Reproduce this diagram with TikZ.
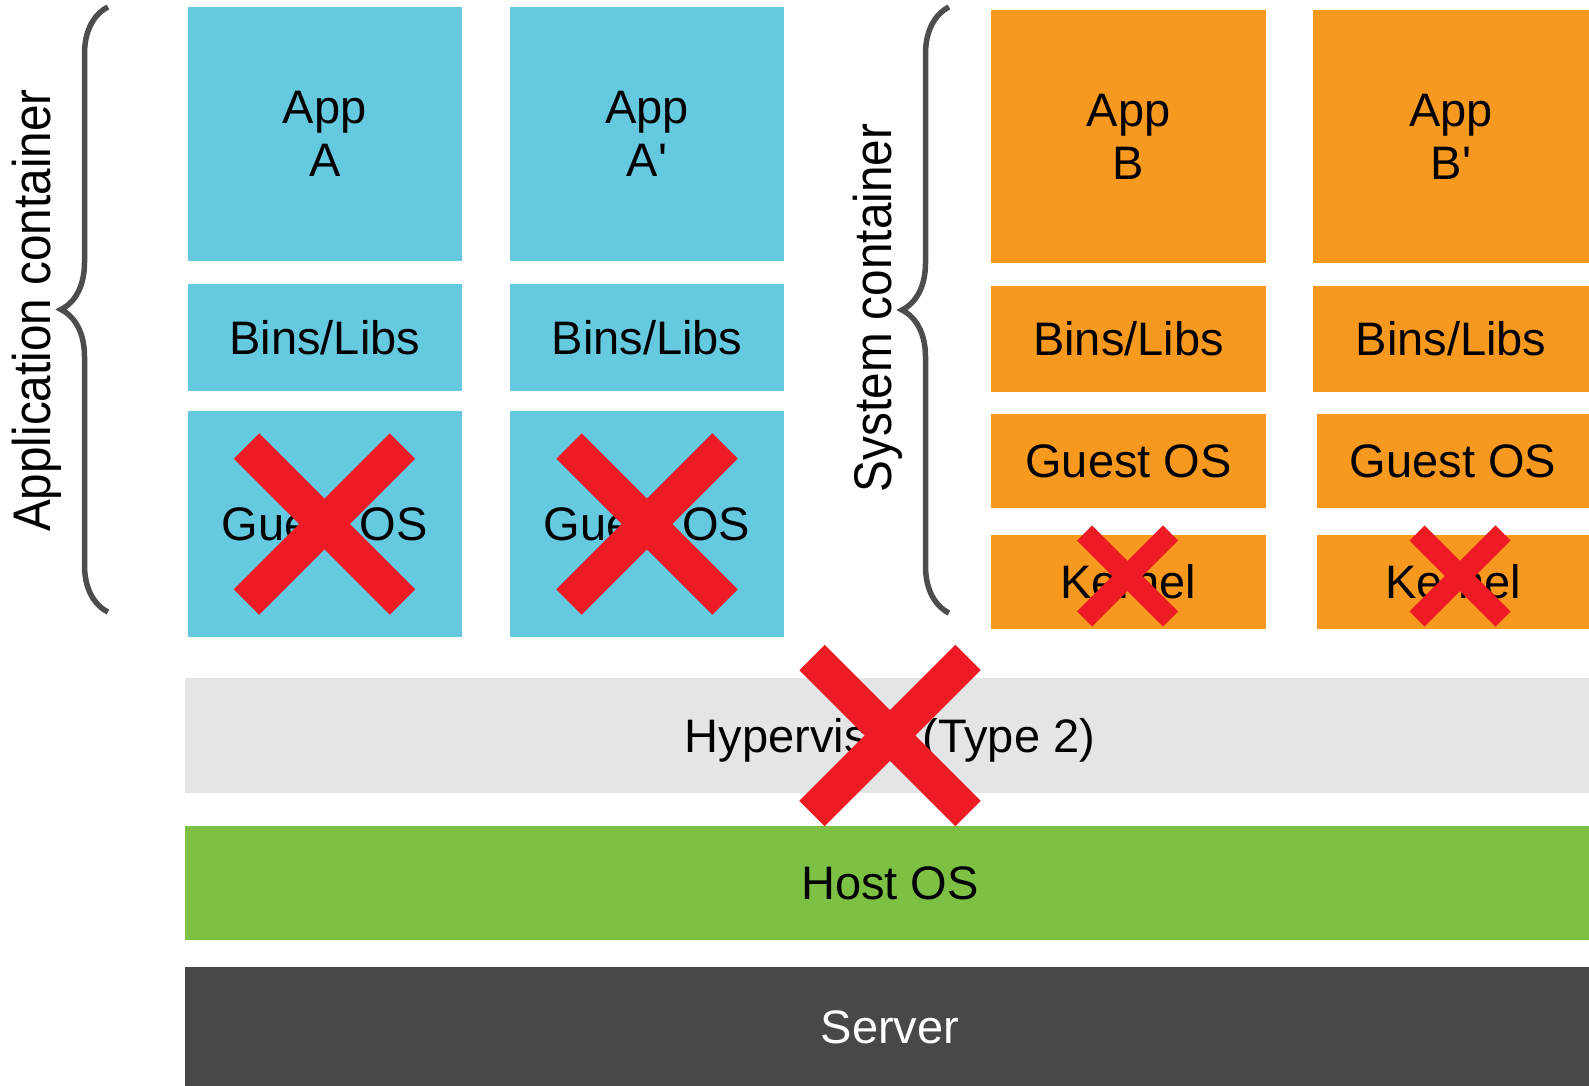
\documentclass[tikz,border=0pt]{standalone}
\usepackage{fontspec}
\setmainfont{Liberation Sans}[Ligatures=TeXOff]
\usetikzlibrary{decorations.pathreplacing}

\definecolor{appblue}{HTML}{65C9E0}
\definecolor{sysorange}{HTML}{F7981F}
\definecolor{hypgray}{HTML}{E4E5E7}
\definecolor{hostgreen}{HTML}{7CC144}
\definecolor{serverdark}{HTML}{48484A}
\definecolor{crossred}{HTML}{ED1C24}
\definecolor{bracegray}{HTML}{4D4D4D}

\tikzset{
	layer/.style={anchor=north west, inner sep=0pt, outer sep=0pt, align=center, font=\fontsize{47}{53}\selectfont},
	appbox/.style={layer, fill=appblue},
	sysbox/.style={layer, fill=sysorange},
	bigx/.style={draw=crossred, line width=36pt},
	smallx/.style={draw=crossred, line width=21.5pt},
	grp/.style={draw=bracegray, line width=5.5pt, decorate, decoration={brace, amplitude=47pt}},
	grplabel/.style={rotate=90, anchor=base, inner sep=0pt, font=\fontsize{53}{60}\selectfont},
}

\begin{document}
\begin{tikzpicture}[x=1pt, y=-1pt]
\useasboundingbox (0,0) rectangle (1589,1085);

% application containers
\node [appbox, minimum width=274.5pt, minimum height=254pt] (appA) at (187.5,7) {App\\A};
\node [appbox, minimum width=274.5pt, minimum height=107pt] (binsA) at (187.5,284) {Bins/Libs};
\node [appbox, minimum width=274.5pt, minimum height=226pt] (guestA) at (187.5,411) {Guest OS};
\node [appbox, minimum width=274pt, minimum height=254pt] (appAp) at (510,7) {App\\A'};
\node [appbox, minimum width=274pt, minimum height=107pt] (binsAp) at (510,284) {Bins/Libs};
\node [appbox, minimum width=274pt, minimum height=226pt] (guestAp) at (510,411) {Guest OS};

% system containers
\node [sysbox, minimum width=275pt, minimum height=253pt] (appB) at (991,10) {App\\B};
\node [sysbox, minimum width=275pt, minimum height=106pt] (binsB) at (991,286) {Bins/Libs};
\node [sysbox, minimum width=275pt, minimum height=94pt] (guestB) at (991,414) {Guest OS};
\node [sysbox, minimum width=275pt, minimum height=94pt] (kernelB) at (991,535) {Kernel};
\node [sysbox, minimum width=276pt, minimum height=253pt] (appBp) at (1313,10) {App\\B'};
\node [sysbox, minimum width=276pt, minimum height=106pt] (binsBp) at (1313,286) {Bins/Libs};
\node [sysbox, minimum width=272pt, minimum height=94pt] (guestBp) at (1317,414) {Guest OS};
\node [sysbox, minimum width=272pt, minimum height=94pt] (kernelBp) at (1317,535) {Kernel};

% lower layers
\node [layer, fill=hypgray, text depth=0pt, minimum width=1410pt, minimum height=115pt] (hyper) at (185,678) {Hypervisor (Type 2)};
\node [layer, fill=hostgreen, minimum width=1410pt, minimum height=114pt] (host) at (185,826) {Host OS};
\node [layer, fill=serverdark, text=white, minimum width=1410pt, minimum height=120pt] (server) at (185,967) {Server};

% braces
\draw [grp] (108,612) -- (108,7);
\draw [grp] (949,613) -- (949,7);
\node [grplabel] (applbl) at (50,310.5) {\scalebox{0.9}[1]{Application container}};
\node [grplabel] (syslbl) at (891,308) {\scalebox{0.9}[1]{System container}};

% crosses
\foreach \cx/\cy in {324.5/524, 647/524, 890/735.5}{
	\draw [bigx] (\cx-78,\cy-78) -- (\cx+78,\cy+78);
	\draw [bigx] (\cx-78,\cy+78) -- (\cx+78,\cy-78);
	}
\foreach \cx/\cy in {1127.5/576, 1460/576}{
	\draw [smallx] (\cx-43,\cy-43) -- (\cx+43,\cy+43);
	\draw [smallx] (\cx-43,\cy+43) -- (\cx+43,\cy-43);
	}

\end{tikzpicture}
\end{document}
